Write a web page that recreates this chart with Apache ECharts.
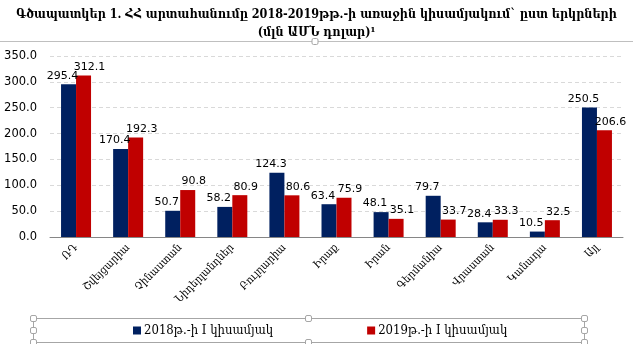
<!DOCTYPE html>
<html>
<head>
<meta charset="utf-8">
<script src="https://cdn.jsdelivr.net/npm/echarts@6/dist/echarts.min.js"></script>
<style>
  html, body { margin: 0; padding: 0; background: #fff; }
  #chart { width: 633px; height: 344px; }
</style>
</head>
<body>
<div id="chart"></div>
<script>
// data
const countries = ["ՌԴ", "Շվեյցարիա", "Չինաստան", "Նիդերլանդներ", "Բուլղարիա", "Իրաք", "Իրան", "Գերմանիա", "Վրաստան", "Կանադա", "Այլ"];
const h1_2018 = [295.4, 170.4, 50.7, 58.2, 124.3, 63.4, 48.1, 79.7, 28.4, 10.5, 250.5];
const h1_2019 = [312.1, 192.3, 90.8, 80.9, 80.6, 75.9, 35.1, 33.7, 33.3, 32.5, 206.6];
const seriesNames = ["2018թ.-ի I կիսամյակ", "2019թ.-ի I կիսամյակ"];
const titleLines = ["Գծապատկեր 1. ՀՀ արտահանումը 2018-2019թթ.-ի առաջին կիսամյակում` ըստ երկրների", "(մլն ԱՄՆ դոլար)¹"];

const serif = "'DejaVu Serif Condensed', 'DejaVu Serif', serif";
const sans = "'DejaVu Sans', sans-serif";

// little selection handles like in the source screenshot
function handle(x, y) {
  return {
    type: "rect",
    shape: { x: x - 3, y: y - 3, width: 6, height: 6, r: 1.5 },
    style: { fill: "#fff", stroke: "#A6A6A6", lineWidth: 1 },
    z: 10
  };
}

function valueLabel(dx) {
  return {
    show: true,
    position: "top",
    fontSize: 11,
    color: "#000",
    distance: 3,
    offset: [dx, 0],
    formatter: p => p.value.toFixed(1)
  };
}

const chart = echarts.init(document.getElementById("chart"));
chart.setOption({
  animation: false,
  textStyle: { fontFamily: sans },
  title: {
    text: titleLines.join("\n"),
    left: "center",
    top: 1,
    textStyle: {
      fontFamily: serif,
      fontSize: 12.5,
      fontWeight: "bold",
      color: "#000",
      lineHeight: 18
    }
  },
  legend: {
    left: 128,
    top: 319,
    itemWidth: 8,
    itemHeight: 8,
    itemGap: 94,
    icon: "rect",
    textStyle: { fontFamily: serif, fontSize: 13, color: "#000", padding: [0, 0, 0, -2] },
    data: seriesNames
  },
  grid: { left: 50, right: 10, top: 56, bottom: 107 },
  xAxis: {
    type: "category",
    data: countries,
    axisLine: { lineStyle: { color: "#868686" } },
    axisTick: { length: 5, lineStyle: { color: "#868686" } },
    axisLabel: {
      rotate: 45,
      margin: 9,
      fontFamily: serif,
      fontSize: 11,
      color: "#000"
    }
  },
  yAxis: {
    type: "value",
    min: 0,
    max: 350,
    interval: 50,
    axisLine: { show: false },
    axisTick: { show: false },
    splitLine: { lineStyle: { color: "#D9D9D9", type: [4, 3] } },
    axisLabel: {
      fontSize: 11.5,
      color: "#000",
      margin: 13,
      formatter: v => v.toFixed(1)
    }
  },
  series: [
    {
      name: seriesNames[0],
      type: "bar",
      data: h1_2018,
      barWidth: 15,
      barGap: "0%",
      itemStyle: { color: "#002060" },
      label: valueLabel(-6)
    },
    {
      name: seriesNames[1],
      type: "bar",
      data: h1_2019,
      barWidth: 15,
      itemStyle: { color: "#C00000" },
      label: valueLabel(6)
    }
  ],
  graphic: [
    { type: "line", shape: { x1: 0, y1: 41.5, x2: 633, y2: 41.5 }, style: { stroke: "#BFBFBF", lineWidth: 1 } },
    handle(315, 41.5),
    { type: "rect", shape: { x: 33.5, y: 318.5, width: 551, height: 24 }, style: { fill: "none", stroke: "#A6A6A6", lineWidth: 1 } },
    handle(33.5, 318.5), handle(308.5, 318.5), handle(584.5, 318.5),
    handle(33.5, 330.5), handle(584.5, 330.5),
    handle(33.5, 342.5), handle(308.5, 342.5), handle(584.5, 342.5)
  ]
});
</script>
</body>
</html>
